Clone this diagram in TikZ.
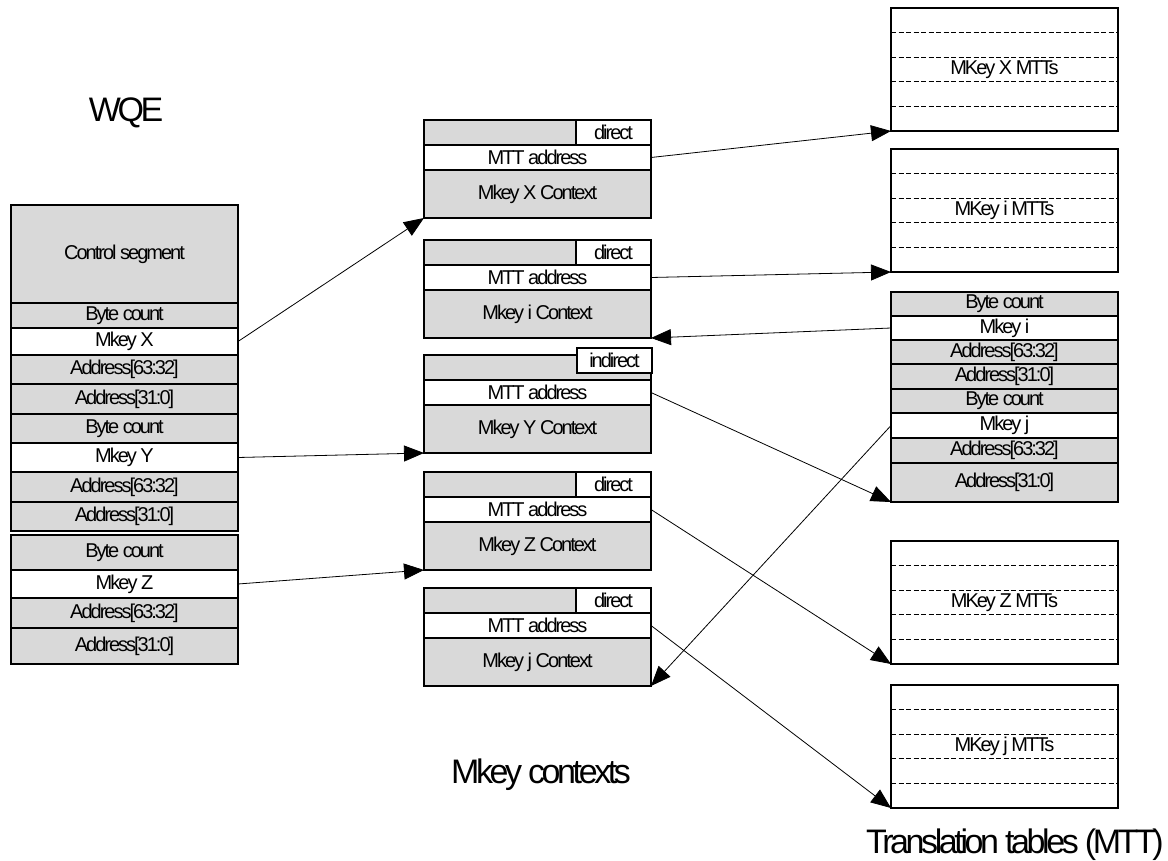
\documentclass[tikz,border=0pt]{standalone}
\usepackage{fontspec}
\setmainfont{Liberation Sans}[LetterSpace=-10]
\usetikzlibrary{positioning,calc,arrows.meta}

\definecolor{cellgray}{RGB}{217,217,217}
\newcommand\cellfont{\fontsize{20}{22}\selectfont}
\newcommand\titlefont{\fontsize{34}{38}\selectfont}

\tikzset{
	cell/.style={draw, line width=1.8pt, fill=cellgray, minimum width=227pt, inner sep=0pt, outer sep=0pt, font=\cellfont},
	keycell/.style={cell, fill=white},
	tag/.style={draw, line width=1.8pt, fill=white, minimum width=75pt, minimum height=25pt, inner sep=0pt, outer sep=0pt, font=\cellfont},
	mtt/.style={draw, line width=1.8pt, minimum width=227pt, minimum height=123pt, inner sep=0pt, outer sep=0pt, font=\cellfont},
	title/.style={font=\titlefont, anchor=base, inner sep=0pt},
	link/.style={->, line width=0.8pt},
	>={Triangle[length=20pt,width=16pt]}
}

\begin{document}
\begin{tikzpicture}[x=1pt, y=-1pt]
		\useasboundingbox (0,0) rectangle (1168,861);
		
		% WQE
		\node (wqe) [title] at (126,122) {WQE};
		\node (ctrl) [cell, minimum height=98pt, anchor=north west] at (11,205) {Control segment};
		\node (bc1) [cell, minimum height=25pt, below=0pt of ctrl] {Byte count};
		\node (mkX) [keycell, minimum height=27pt, below=0pt of bc1] {Mkey X};
		\node (ah1) [cell, minimum height=29pt, below=0pt of mkX] {Address[63:32]};
		\node (al1) [cell, minimum height=30pt, below=0pt of ah1] {Address[31:0]};
		\node (bc2) [cell, minimum height=29pt, below=0pt of al1] {Byte count};
		\node (mkY) [keycell, minimum height=29pt, below=0pt of bc2] {Mkey Y};
		\node (ah2) [cell, minimum height=30pt, below=0pt of mkY] {Address[63:32]};
		\node (al2) [cell, minimum height=29pt, below=0pt of ah2] {Address[31:0]};
		\node (bc3) [cell, minimum height=35pt, below=4pt of al2] {Byte count};
		\node (mkZ) [keycell, minimum height=28pt, below=0pt of bc3] {Mkey Z};
		\node (ah3) [cell, minimum height=30pt, below=0pt of mkZ] {Address[63:32]};
		\node (al3) [cell, minimum height=36pt, below=0pt of ah3] {Address[31:0]};
		
		% Mkey contexts
		\node (ctxs) [title] at (541,783) {Mkey contexts};
		\node (stX) [cell, minimum height=25pt, anchor=north west] at (424,120) {};
		\node (mttX) [keycell, minimum height=25pt, below=0pt of stX] {MTT address};
		\node (ctxX) [cell, minimum height=48pt, below=0pt of mttX] {Mkey X Context};
		\node (tagX) [tag, anchor=north east] at (stX.north east) {direct};
		
		\node (sti) [cell, minimum height=25pt, anchor=north west] at (424,240) {};
		\node (mtti) [keycell, minimum height=25pt, below=0pt of sti] {MTT address};
		\node (ctxi) [cell, minimum height=48pt, below=0pt of mtti] {Mkey i Context};
		\node (tagi) [tag, anchor=north east] at (sti.north east) {direct};
		
		\node (stY) [cell, minimum height=25pt, anchor=north west] at (424,355) {};
		\node (mttY) [keycell, minimum height=25pt, below=0pt of stY] {MTT address};
		\node (ctxY) [cell, minimum height=48pt, below=0pt of mttY] {Mkey Y Context};
		\node (tagY) [tag, anchor=north east] at ([xshift=1pt, yshift=7pt]stY.north east) {indirect};
		
		\node (stZ) [cell, minimum height=25pt, anchor=north west] at (424,472) {};
		\node (mttZ) [keycell, minimum height=25pt, below=0pt of stZ] {MTT address};
		\node (ctxZ) [cell, minimum height=48pt, below=0pt of mttZ] {Mkey Z Context};
		\node (tagZ) [tag, anchor=north east] at (stZ.north east) {direct};
		
		\node (stj) [cell, minimum height=25pt, anchor=north west] at (424,588) {};
		\node (mttj) [keycell, minimum height=25pt, below=0pt of stj] {MTT address};
		\node (ctxj) [cell, minimum height=48pt, below=0pt of mttj] {Mkey j Context};
		\node (tagj) [tag, anchor=north east] at (stj.north east) {direct};
		
		% Translation tables
		\node (tbls) [title] at (1015,853) {Translation tables (MTT)};
		\node (tblX) [mtt, anchor=north west] at (891,8) {MKey X MTTs};
		\node (tbli) [mtt, anchor=north west] at (891,149) {MKey i MTTs};
		\node (tblZ) [mtt, anchor=north west] at (891,541) {MKey Z MTTs};
		\node (tblj) [mtt, anchor=north west] at (891,685) {MKey j MTTs};
		\foreach \t in {X,i,Z,j}
			\foreach \k in {1,...,4}
				\draw[line width=1.3pt, dash pattern=on 5pt off 2.5pt] ($(tbl\t.north west)!\k/5!(tbl\t.south west)$) -- ($(tbl\t.north east)!\k/5!(tbl\t.south east)$);
		
		% indirect WQE
		\node (rbc1) [cell, minimum height=24pt, anchor=north west] at (891,292) {Byte count};
		\node (rmki) [keycell, minimum height=24pt, below=0pt of rbc1] {Mkey i};
		\node (rah1) [cell, minimum height=24pt, below=0pt of rmki] {Address[63:32]};
		\node (ral1) [cell, minimum height=25pt, below=0pt of rah1] {Address[31:0]};
		\node (rbc2) [cell, minimum height=24pt, below=0pt of ral1] {Byte count};
		\node (rmkj) [keycell, minimum height=25pt, below=0pt of rbc2] {Mkey j};
		\node (rah2) [cell, minimum height=25pt, below=0pt of rmkj] {Address[63:32]};
		\node (ral2) [cell, minimum height=39pt, below=0pt of rah2] {Address[31:0]};
		
		\draw[link] (mkX.east) -- (ctxX.south west);
		\draw[link] (mkY.east) -- (ctxY.south west);
		\draw[link] (mkZ.east) -- (ctxZ.south west);
		\draw[link] (mttX.east) -- (tblX.south west);
		\draw[link] (mtti.east) -- (tbli.south west);
		\draw[link] (rmki.west) -- (ctxi.south east);
		\draw[link] (mttY.east) -- (ral2.south west);
		\draw[link] (rmkj.west) -- (ctxj.south east);
		\draw[link] (mttZ.east) -- (tblZ.south west);
		\draw[link] (mttj.east) -- (tblj.south west);
	\end{tikzpicture}
\end{document}
